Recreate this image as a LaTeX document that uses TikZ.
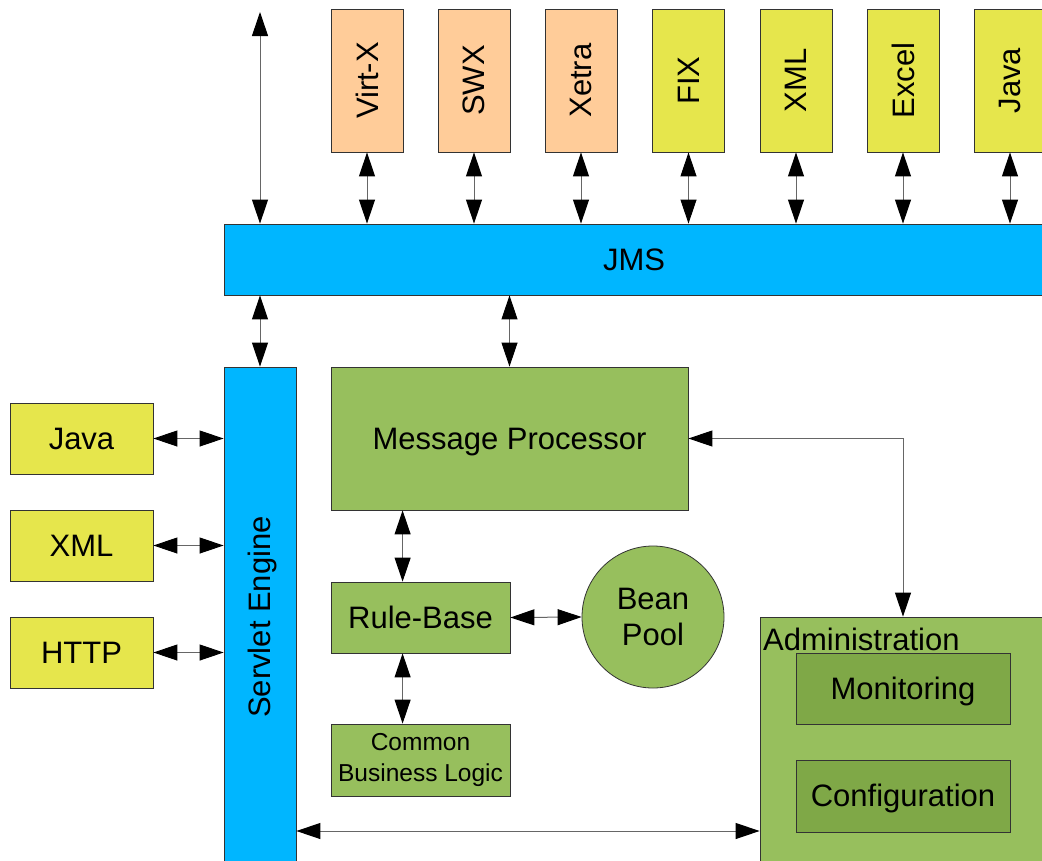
\documentclass[tikz,border=0pt]{standalone}
\usepackage{fontspec}
\setmainfont{Liberation Sans}
\usetikzlibrary{arrows.meta}
\definecolor{peach}{HTML}{FFCC99}
\definecolor{ylw}{HTML}{E6E64C}
\definecolor{sky}{HTML}{00B6FF}
\definecolor{grn}{HTML}{97BF5D}
\definecolor{dgrn}{HTML}{7FA847}
\begin{document}
\begin{tikzpicture}[x=1pt,y=-1pt,
  box/.style={draw=black!80, line width=0.8pt, inner sep=0pt, align=center, font=\fontsize{31}{36}\selectfont},
  oneline/.style={text height=28pt, text depth=6.6pt},
  topbox/.style={box, minimum width=72pt, minimum height=143pt},
  leftbox/.style={box, oneline, fill=ylw, minimum width=143pt, minimum height=71pt},
  biarrow/.style={draw=black!60, line width=1pt, {Triangle[width=16pt,length=24pt,black]}-{Triangle[width=16pt,length=24pt,black]}}]
\useasboundingbox (0,0) rectangle (1042,860);
\clip (0,0) rectangle (1042,860);
\fill[white] (0,0) rectangle (1042,860);

% top boxes
\node[topbox, fill=peach] (virtx) at (367,80.5) {\rotatebox{90}{Virt-X}};
\node[topbox, fill=peach] (swx) at (474,80.5) {\rotatebox{90}{SWX}};
\node[topbox, fill=peach] (xetra) at (581,80.5) {\rotatebox{90}{Xetra}};
\node[topbox, fill=ylw] (fix) at (688.5,80.5) {\rotatebox{90}{FIX}};
\node[topbox, fill=ylw] (xmlt) at (796,80.5) {\rotatebox{90}{XML}};
\node[topbox, fill=ylw] (excel) at (903,80.5) {\rotatebox{90}{Excel}};
\node[topbox, fill=ylw] (javat) at (1010,80.5) {\rotatebox{90}{Java}};

% JMS bar
\node[box, oneline, fill=sky, minimum width=820pt, minimum height=71pt] (jms) at (634,259.5) {JMS};

% servlet engine
\node[box, fill=sky, minimum width=72pt, minimum height=503pt] (servlet) at (260,618.5) {};
\node[font=\fontsize{31}{36}\selectfont, inner sep=0pt] (servlettext) at (262,617) {\rotatebox{90}{Servlet Engine}};

% left boxes
\node[leftbox] (javal) at (81.5,438.5) {Java};
\node[leftbox] (xmll) at (81.5,545.5) {XML};
\node[leftbox] (http) at (81.5,652.5) {HTTP};

% core
\node[box, oneline, fill=grn, minimum width=357pt, minimum height=143pt] (mp) at (509.5,438.5) {Message Processor};
\node[box, oneline, fill=grn, minimum width=179pt, minimum height=71pt] (rb) at (420.5,617.5) {Rule-Base};
\node[box, fill=grn, minimum width=179pt, minimum height=72pt, font=\fontsize{24.5}{31}\selectfont] (cbl) at (420.5,760) {Common\\Business Logic};
\node[box, fill=grn, circle, minimum size=142pt] (bean) at (653,617) {Bean\\Pool};

% administration
\node[box, fill=grn, minimum width=286pt, minimum height=253pt] (admin) at (903,743.5) {};
\node[anchor=base west, inner sep=0pt, font=\fontsize{31}{36}\selectfont] (admintext) at (763,650) {Administration};
\node[box, oneline, fill=dgrn, minimum width=214pt, minimum height=71pt] (mon) at (903,688.5) {Monitoring};
\node[box, oneline, fill=dgrn, minimum width=214pt, minimum height=72pt] (conf) at (903,796) {Configuration};

% connectors
\coordinate (topfree) at (260,12);
\coordinate (sa) at (0,831);
\draw[biarrow] (topfree) -- (topfree |- jms.north);
\foreach \n in {virtx,swx,xetra,fix,xmlt,excel,javat}
  \draw[biarrow] (\n.south) -- (\n.south |- jms.north);
\draw[biarrow] (servlet.north |- jms.south) -- (servlet.north);
\draw[biarrow] (mp.north |- jms.south) -- (mp.north);
\foreach \n in {javal,xmll,http}
  \draw[biarrow] (\n.east) -- (\n.east -| servlet.west);
\draw[biarrow] ([xshift=72pt]rb.north west |- mp.south) -- ([xshift=72pt]rb.north west);
\draw[biarrow] ([xshift=72pt]rb.south west) -- ([xshift=72pt]cbl.north west);
\draw[biarrow] (rb.east) -- (bean.west);
\draw[biarrow] (mp.east) -| (admin.north);
\draw[biarrow] (servlet.east |- sa) -- (admin.west |- sa);
\end{tikzpicture}
\end{document}
